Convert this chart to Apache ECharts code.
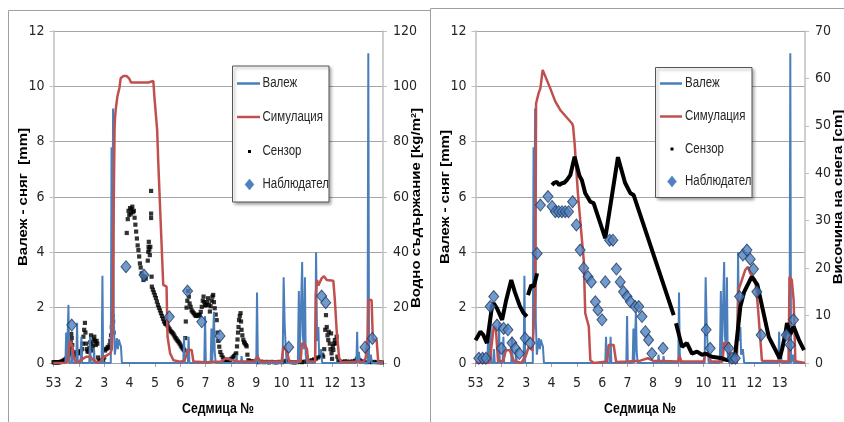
<!DOCTYPE html>
<html>
<head>
<meta charset="utf-8">
<script src="https://cdn.jsdelivr.net/npm/echarts@6/dist/echarts.min.js"></script>
<style>
html,body{margin:0;padding:0;background:#fff;}
#chart{width:844px;height:422px;}
</style>
</head>
<body>
<div id="chart"></div>
<script>
// ---------- DATA ----------
const weekLabels = ['53','2','3','4','5','6','7','8','9','10','11','12','13'];

// Precipitation [week, mm] (same in both panels)
const precip = [
[0,0],[0.47,0],[0.5,1.1],[0.53,0],[0.56,0],[0.59,2.1],[0.62,0],[0.7,0],[0.73,0.5],[0.76,0],
[0.9,0],[0.93,1.45],[0.96,0],[1.07,0],[1.1,0.95],[1.13,0],[1.41,0],[1.44,0.95],[1.47,0],
[1.58,0],[1.6,0.5],[1.63,0],[1.9,0],[1.93,3.15],[1.96,0],[2.26,0],[2.29,7.8],[2.32,2.5],
[2.35,9.2],[2.38,1.5],[2.42,0.3],[2.5,0.9],[2.54,0.5],[2.58,0.85],[2.62,0.7],[2.66,0.6],[2.7,0],
[5.12,0],[5.15,0.95],[5.18,0],[5.3,0],[5.33,0.95],[5.36,0],
[5.95,0],[5.98,1.7],[6.01,0],[6.2,0],[6.23,1.25],[6.26,0],[6.3,0],[6.33,1.85],[6.36,0.4],[6.4,0],
[7.2,0],[7.22,0.3],[7.25,0],[7.4,0],[7.42,0.25],[7.45,0],
[8.0,0],[8.03,2.55],[8.06,0.3],[8.09,0],
[9.04,0],[9.08,3.1],[9.12,1.4],[9.16,0.6],[9.2,0],
[9.64,0],[9.68,2.6],[9.71,0],[9.78,0],[9.81,3.65],[9.84,1.0],[9.88,0.5],[9.92,3.1],[9.95,0.3],[10.0,0],
[10.32,0],[10.36,4.0],[10.4,0.8],[10.45,1.3],[10.48,0.3],[10.55,0.5],[10.6,0],
[11.95,0],[11.98,1.13],[12.01,0],[12.05,0.4],[12.08,0],
[12.39,0],[12.42,11.2],[12.45,0],[12.52,0.3],[12.56,0],[13,0]
];

// Left panel: simulated water content [week, kg/m2]
const simLeft = [
[0,0],[0.45,0],[0.55,0.5],[0.6,4],[0.65,8],[0.7,8.3],[0.75,6],[0.8,2],[0.88,0.3],[1.0,0.5],
[1.15,1.5],[1.3,2.3],[1.45,2.3],[1.55,1.2],[1.7,0.3],[1.85,0.5],[1.95,2],[2.05,2.5],[2.15,3],
[2.25,3.6],[2.3,5],[2.34,20],[2.38,60],[2.41,85],[2.43,89],[2.46,92],[2.52,96.3],[2.6,99.4],
[2.65,102.9],[2.75,103.7],[2.89,103.7],[2.98,102.9],[3.06,101.4],[3.74,101.4],[3.94,101.9],
[3.98,96.3],[4.04,95.8],[4.09,84.2],[4.13,73.4],[4.2,73],[4.23,50.5],[4.3,50],[4.33,28.2],
[4.46,27.6],[4.5,9.5],[4.6,3.5],[4.73,1],[5.0,0.5],[5.16,0.8],[5.25,3],[5.3,4.7],[5.45,4.7],
[5.52,0.5],[6.0,0.3],[6.6,0.5],[6.8,1.7],[7.0,1.2],[7.2,0.5],[7.9,0.5],[8.05,2.4],[8.15,0.5],
[9.0,0.5],[9.07,5.9],[9.15,5],[9.22,4],[9.3,0.5],[9.75,0.5],[9.8,7],[9.9,7.1],[10.0,5],
[10.05,0.5],[10.32,0.5],[10.35,25],[10.4,30],[10.45,28],[10.58,30.6],[10.67,31.4],[10.78,30],
[11.04,29.7],[11.1,22.8],[11.17,12],[11.27,1.8],[11.35,0.3],[12.25,0.5],[12.32,2],[12.4,10],
[12.42,22.8],[12.55,22.8],[12.6,8.3],[12.75,8.3],[12.81,0.5],[13,0.3]
];

// Left panel: sensor water content [week, kg/m2]
const sensorLeft = [
[0,0.3],[0.04,0.2],[0.08,0.3],[0.12,0.2],[0.16,0.3],[0.2,0.2],[0.24,0.3],[0.28,0.4],[0.32,0.5],
[0.36,0.7],[0.4,0.9],[0.44,1.1],[0.48,1.4],[0.52,1.8],[0.56,2.2],[0.6,2.8],[0.63,3.5],[0.66,5],
[0.68,7.5],[0.7,10.5],[0.72,9],[0.74,6.5],[0.76,4],[0.8,2.6],[0.84,3],[0.88,3.4],[0.92,3.9],
[0.96,3.6],[1.0,4.2],[1.04,3.5],[1.08,4.1],[1.12,5],[1.15,7],[1.18,9.5],[1.21,12],[1.24,14.5],
[1.26,11],[1.28,7],[1.31,5],[1.34,4.2],[1.38,4],[1.42,5.5],[1.45,7.5],[1.48,10],[1.5,7],[1.52,4.5],
[1.55,6],[1.58,8.5],[1.61,9.5],[1.64,8],[1.67,6.5],[1.7,8],[1.73,7],[1.76,2],[1.8,0.8],[1.84,0.5],
[1.88,0.8],[1.92,1],[1.96,0.7],[2.0,2],[2.03,4.5],[2.06,5],[2.1,5.2],[2.14,5.8],[2.18,5.5],
[2.21,6.5],[2.24,8],[2.27,10],[2.3,13],[2.33,17],[2.35,15],[2.37,11],
[2.89,47],[2.93,52],[2.96,55],[2.99,53.5],[3.02,56],[3.05,54],[3.08,55.5],[3.11,56.5],[3.14,54.5],
[3.17,55],[3.2,52.5],[3.23,50],[3.26,47.5],[3.29,45],[3.32,42.5],[3.35,40.8],[3.38,38.5],[3.41,36],
[3.44,34.5],[3.48,32.4],[3.52,31.5],[3.55,30],[3.58,31],[3.61,31.2],[3.64,30.5],
[3.72,37],[3.74,40.2],[3.75,42],[3.76,43.8],[3.78,41],[3.8,39],[3.82,42],[3.85,62.2],[3.85,54],
[3.85,52.4],[3.87,31.2],[3.88,27.6],[3.92,26.5],[3.96,25.5],[4.0,24.5],[4.04,23.5],[4.08,22.2],
[4.12,21],[4.16,20],[4.2,19],[4.24,18],[4.28,17],[4.32,16],[4.36,15],[4.4,14.3],[4.44,14],
[4.47,14.5],[4.5,13.5],[4.54,12.8],[4.58,12.2],[4.62,11.6],[4.66,11.2],[4.7,10.8],[4.74,10.3],
[4.78,9.6],[4.82,9],[4.86,8.5],[4.9,8],[4.94,7.5],[4.98,7],[5.02,6.3],[5.06,5.7],[5.1,5.2],
[5.14,4.8],[5.17,4.5],[5.2,9],[5.22,15],[5.25,20],[5.28,22.5],[5.31,26],[5.34,24],[5.37,21.5],
[5.41,20.3],[5.45,19],[5.49,18.5],[5.53,18],[5.57,17.5],[5.61,17],[5.65,17.3],[5.69,17],[5.73,17.5],
[5.77,17.3],[5.81,18.5],[5.85,20.3],[5.89,22.5],[5.92,24],[5.95,22],[5.98,20.8],[6.02,21],[6.06,22],
[6.1,23.4],[6.13,21],[6.17,18.6],[6.2,20.5],[6.24,22.5],[6.27,24],[6.3,24.6],[6.33,22],[6.36,19.8],
[6.4,17.5],[6.44,15.5],[6.47,11],[6.5,8],[6.54,5.9],[6.58,4],[6.63,2.9],[6.68,2],[6.73,1.3],
[6.78,1.1],[6.84,1],[6.9,1.2],[6.96,1.1],[7.02,1.5],[7.07,2],[7.12,2.5],[7.17,3],[7.21,3.5],
[7.24,6],[7.26,8.5],[7.28,11],[7.3,13],[7.32,15.5],[7.35,17],[7.38,18],[7.4,15],[7.42,12],
[7.45,10],[7.49,8.4],[7.52,7.5],[7.55,7.1],[7.59,6.5],[7.62,6],[7.65,3],[7.69,1],[7.74,0.6],
[7.8,0.5],[7.86,0.5],[7.9,0.5],[8.0,0.6],[8.1,0.3],[8.2,0.5],[8.3,0.3],[8.4,0.4],[8.5,0.2],
[8.6,0.4],[8.7,0.3],[8.8,0.2],[8.9,0.4],[9.0,0.3],[9.1,0.6],[9.2,0.8],[9.3,0.4],[9.4,0.3],
[9.5,0.2],[9.6,0.3],[9.7,0.4],[9.8,0.3],[9.9,0.5],[10.0,0.6],[10.1,0.8],[10.2,1.0],[10.28,1.3],
[10.36,1.6],[10.44,2.0],[10.52,2.5],[10.6,3],[10.64,2.3],[10.68,5],[10.72,12],[10.75,17.3],
[10.78,13],[10.81,10],[10.84,8.3],[10.86,11.3],[10.9,7],[10.93,5],[10.95,10.7],[10.97,3.5],
[10.99,1.5],[11.02,6],[11.04,4.7],[11.07,7],[11.1,8.3],[11.13,7.1],[11.17,9.5],[11.2,2.3],
[11.24,1],[11.3,0.5],[11.4,0.4],[11.5,0.6],[11.6,0.5],[11.7,0.4],[11.8,0.6],[11.9,0.8],
[11.97,1.5],[12.02,1.7],[12.08,1.0],[12.15,0.6],[12.25,0.4],[12.35,0.3],[12.45,0.5],[12.55,0.3],
[12.65,0.4],[12.75,0.3],[12.85,0.3],[12.95,0.2]
];

// Left panel: observer water content [week, kg/m2]
const obsLeft = [
[0.72,13.7],[2.86,34.8],[3.57,31.8],[4.57,16.7],[5.29,26.0],[5.85,14.9],[6.57,9.8],
[9.28,5.7],[10.58,24.2],[10.74,21.8],[12.29,5.7],[12.58,8.9]
];

// Right panel: simulated snow depth [week, cm]
const simRight = [
[0,0],[0.55,0],[0.62,3],[0.72,7.7],[0.8,7.5],[0.89,0.3],[1.1,0.5],[1.2,2.7],[1.35,2.7],[1.5,0.5],
[1.8,0],[1.97,1.3],[2.1,3.4],[2.25,2.7],[2.32,3],[2.36,14.7],[2.39,54.7],[2.49,56.9],[2.56,57.9],
[2.65,61.8],[2.95,57.9],[3.15,55.1],[3.35,53.3],[3.81,50.5],[3.85,49.9],[3.91,46.3],[4.04,35.8],
[4.13,30.2],[4.27,21.7],[4.33,10.5],[4.4,10.1],[4.47,7.7],[4.53,0.6],[4.66,0],[5.2,0.3],[5.25,3.8],
[5.45,3.8],[5.55,0.2],[6.0,0.3],[6.5,0.5],[6.8,1],[7.0,0.5],[8.0,0.3],[8.05,1.5],[8.12,0.3],
[9.0,0.3],[9.07,2],[9.2,2],[9.28,0.3],[9.75,0.3],[9.8,4.2],[10.0,4.2],[10.05,0.3],[10.3,0],
[10.38,15.4],[10.51,17.5],[10.64,19.6],[10.75,20.3],[10.84,18.9],[11.04,17.5],[11.14,11.9],
[11.24,4.85],[11.3,0.5],[12.35,0.3],[12.39,18.2],[12.48,17.5],[12.55,13.3],[12.62,0.4],[13,0]
];

// Right panel: sensor snow depth [week, cm] ('-' = gap)
const sensorRight = [
[0,4.8],[0.08,5.5],[0.19,6.6],[0.3,6],[0.45,4.2],[0.55,8],[0.65,11.9],[0.72,12.6],[0.85,11.5],
[1.05,9.1],[1.2,13],[1.41,17.5],[1.55,15],[1.75,12],[1.9,10.5],[2.03,9.8],[2.05,'-'],
[2.07,14.3],[2.2,16.4],[2.3,16.1],[2.43,18.9],[2.7,'-'],
[3.02,37.5],[3.1,38],[3.21,38.2],[3.3,37.5],[3.41,37.9],[3.5,38],[3.61,38.6],[3.74,39.6],
[3.91,43.5],[4.1,39.5],[4.2,38.5],[4.33,35.8],[4.53,34],[4.66,33.7],[5.12,26.3],[5.62,43.4],
[5.9,38],[6.11,35.8],[6.24,35.4],[7.82,10.1],[7.86,'-'],
[7.91,8.4],[8.15,3.4],[8.34,4.2],[8.54,2.0],[8.74,2.4],[8.94,1.7],[9.07,2.0],[9.33,1.3],
[9.72,1.0],[9.92,0.6],[10.1,1.0],[10.25,2.0],[10.45,11.9],[10.6,15],[10.9,18.2],[11.04,17.1],
[11.12,16.5],[11.57,5.5],[12.0,1.0],[12.1,3],[12.23,6.3],[12.29,8.4],[12.42,6],[12.55,7.7],
[12.75,5],[12.96,2.7]
];

// Right panel: observer snow depth [week, cm]
const obsRight = [
[0.13,1],[0.28,1],[0.41,1],[0.58,11.9],[0.72,14],[0.85,8],[1.02,3.1],[1.11,7.3],[1.28,7],
[1.44,4.2],[1.57,3.1],[1.73,2],[1.96,5.2],[2.16,4.2],[2.43,23.1],[2.56,33.3],[2.86,35.1],
[3.02,33],[3.15,31.9],[3.28,31.9],[3.41,31.9],[3.54,31.9],[3.67,31.9],[3.83,34],[3.98,29.1],
[4.13,23.8],[4.27,20],[4.44,18.2],[4.57,17.1],[4.73,12.9],[4.83,11.2],[4.99,9.1],[5.12,17.1],
[5.29,25.9],[5.42,25.9],[5.56,19.8],[5.71,17.1],[5.84,15],[5.98,14],[6.11,12.9],[6.3,11.9],
[6.44,11.9],[6.57,9.8],[6.7,6.6],[6.83,4.85],[6.96,2],[7.4,3.1],[9.1,7],[9.26,3.1],[9.99,3.1],
[10.12,1],[10.25,1],[10.42,14],[10.55,22.8],[10.71,23.8],[10.84,21.9],[10.97,19.8],[11.1,15],
[11.27,5.9],[12.26,5.9],[12.42,3.8],[12.55,9.1]
];

const legendNames = ['Валеж','Симулация','Сензор','Наблюдател'];

// ---------- STYLE ----------
const NARROW = "'Liberation Sans Narrow','Arial Narrow','DejaVu Sans Condensed',sans-serif";
const BLUE = '#4a7ebb', RED = '#c0504d', DIA = '#4f81bd', DIAB = '#1f3864';
const gridLine = '#a6a6a6', axisCol = '#bfbfbf', txt = '#262626';

function xAxis(gi){
  return {type:'value', gridIndex:gi, min:0, max:13, interval:1,
    axisLine:{show:true, lineStyle:{color:'#a6a6a6', width:1}},
    axisTick:{show:true, length:4, lineStyle:{color:'#a6a6a6'}},
    splitLine:{show:false},
    axisLabel:{margin:13, color:txt, fontSize:14, fontFamily:NARROW,
      formatter:v => (weekLabels[v] !== undefined ? weekLabels[v] : '')}};
}
function yAxis(gi, pos, max, interval, split){
  return {type:'value', gridIndex:gi, position:pos, min:0, max:max, interval:interval,
    axisLine:{show:true, lineStyle:{color:axisCol, width:1.5}},
    axisTick:{show:true, length:4, lineStyle:{color:axisCol}},
    splitLine:{show:split, lineStyle:{color:gridLine, width:1}},
    axisLabel:{margin:pos==='left'?9:10, color:txt, fontSize:14, fontFamily:NARROW}};
}

function legendGraphic(bx, by, bw, bh, ys, lx0, lx1, tx, sx){
  const g = [];
  g.push({type:'rect', shape:{x:bx, y:by, width:bw, height:bh},
    style:{fill:'#fff', stroke:'#555', lineWidth:1, shadowBlur:3, shadowOffsetX:2, shadowOffsetY:2, shadowColor:'rgba(0,0,0,0.35)'}, z:100});
  g.push({type:'line', shape:{x1:lx0, y1:ys[0], x2:lx1, y2:ys[0]}, style:{stroke:BLUE, lineWidth:2.5}, z:101});
  g.push({type:'line', shape:{x1:lx0, y1:ys[1], x2:lx1, y2:ys[1]}, style:{stroke:RED, lineWidth:2.5}, z:101});
  g.push({type:'rect', shape:{x:sx-1.5, y:ys[2]-1.5, width:3, height:3}, style:{fill:'#000'}, z:101});
  g.push({type:'polygon', shape:{points:[[sx,ys[3]-5.5],[sx+4.5,ys[3]],[sx,ys[3]+5.5],[sx-4.5,ys[3]]]},
    style:{fill:DIA, stroke:DIA, lineWidth:0.5}, z:101});
  legendNames.forEach((n,i)=>{
    g.push({type:'text', x:tx, y:ys[i], scaleX:0.82, z:102,
      style:{text:n, fill:txt, font:"14px 'Liberation Sans',Arial,sans-serif", align:'left', verticalAlign:'middle'}});
  });
  return g;
}

function vTitle(x, y, text){
  return {type:'text', x:x, y:y, rotation:Math.PI/2, scaleY:0.85, z:50,
    style:{text:text, fill:'#000', font:"bold 15px 'Liberation Sans',Arial,sans-serif", align:'center', verticalAlign:'middle'}};
}
function hTitle(x, y, text){
  return {type:'text', x:x, y:y, scaleX:0.82, z:50,
    style:{text:text, fill:'#000', font:"bold 15px 'Liberation Sans',Arial,sans-serif", align:'center', verticalAlign:'middle'}};
}

const graphic = [
  {type:'line', shape:{x1:8.5, y1:10.5, x2:8.5, y2:422}, style:{stroke:'#a0a0a0', lineWidth:1}},
  {type:'line', shape:{x1:8.5, y1:10.5, x2:430, y2:10.5}, style:{stroke:'#a0a0a0', lineWidth:1}},
  {type:'line', shape:{x1:430.5, y1:8.5, x2:430.5, y2:422}, style:{stroke:'#a0a0a0', lineWidth:1}},
  {type:'line', shape:{x1:430.5, y1:8.5, x2:844, y2:8.5}, style:{stroke:'#a0a0a0', lineWidth:1}},
  vTitle(23, 197, 'Валеж - сняг  [mm]'),
  vTitle(416, 208, 'Водно съдържание [kg/m²]'),
  vTitle(445, 197, 'Валеж - сняг [mm]'),
  vTitle(838, 197, 'Височина на снега [cm]'),
  hTitle(218, 409, 'Седмица №'),
  hTitle(640, 409, 'Седмица №'),
  ...legendGraphic(232.5, 66, 96.5, 136, [83.5,117,151.5,184.5], 237, 260, 262.5, 249.5),
  ...legendGraphic(655.5, 67.5, 96.5, 130, [83.5,116.5,149,181.5], 660, 682, 685, 672)
];

function lineSeries(name, xi, yi, data, color, width){
  return {name, type:'line', xAxisIndex:xi, yAxisIndex:yi, data, symbol:'none', showSymbol:false,
    lineStyle:{color, width}, itemStyle:{color}, connectNulls:false, animation:false};
}
function sensorScatter(xi, yi, data){
  return {name:'Сензор', type:'scatter', xAxisIndex:xi, yAxisIndex:yi, data, symbol:'rect', symbolSize:4.2,
    itemStyle:{color:'#000'}, animation:false};
}
function obsScatter(xi, yi, data){
  return {name:'Наблюдател', type:'scatter', xAxisIndex:xi, yAxisIndex:yi, data, symbol:'diamond', symbolSize:[10,12],
    itemStyle:{color:DIA, borderColor:DIAB, borderWidth:1}, animation:false, z:5};
}

const option = {
  animation:false,
  backgroundColor:'#fff',
  grid:[
    {left:53.5, right:461, top:31, bottom:59},
    {left:475.5, right:39, top:31, bottom:59}
  ],
  xAxis:[xAxis(0), xAxis(1)],
  yAxis:[
    yAxis(0,'left',12,2,true), yAxis(0,'right',120,20,false),
    yAxis(1,'left',12,2,true), yAxis(1,'right',70,10,false)
  ],
  series:[
    lineSeries('Валеж',0,0,precip,BLUE,2),
    lineSeries('Симулация',0,1,simLeft,RED,2.5),
    sensorScatter(0,1,sensorLeft),
    obsScatter(0,1,obsLeft),
    lineSeries('Валеж',1,2,precip,BLUE,2),
    lineSeries('Симулация',1,3,simRight,RED,2.5),
    lineSeries('Сензор',1,3,sensorRight,'#000',4),
    obsScatter(1,3,obsRight)
  ],
  graphic:graphic
};

const chart = echarts.init(document.getElementById('chart'), null, {renderer:'canvas'});
chart.setOption(option);
</script>
</body>
</html>
